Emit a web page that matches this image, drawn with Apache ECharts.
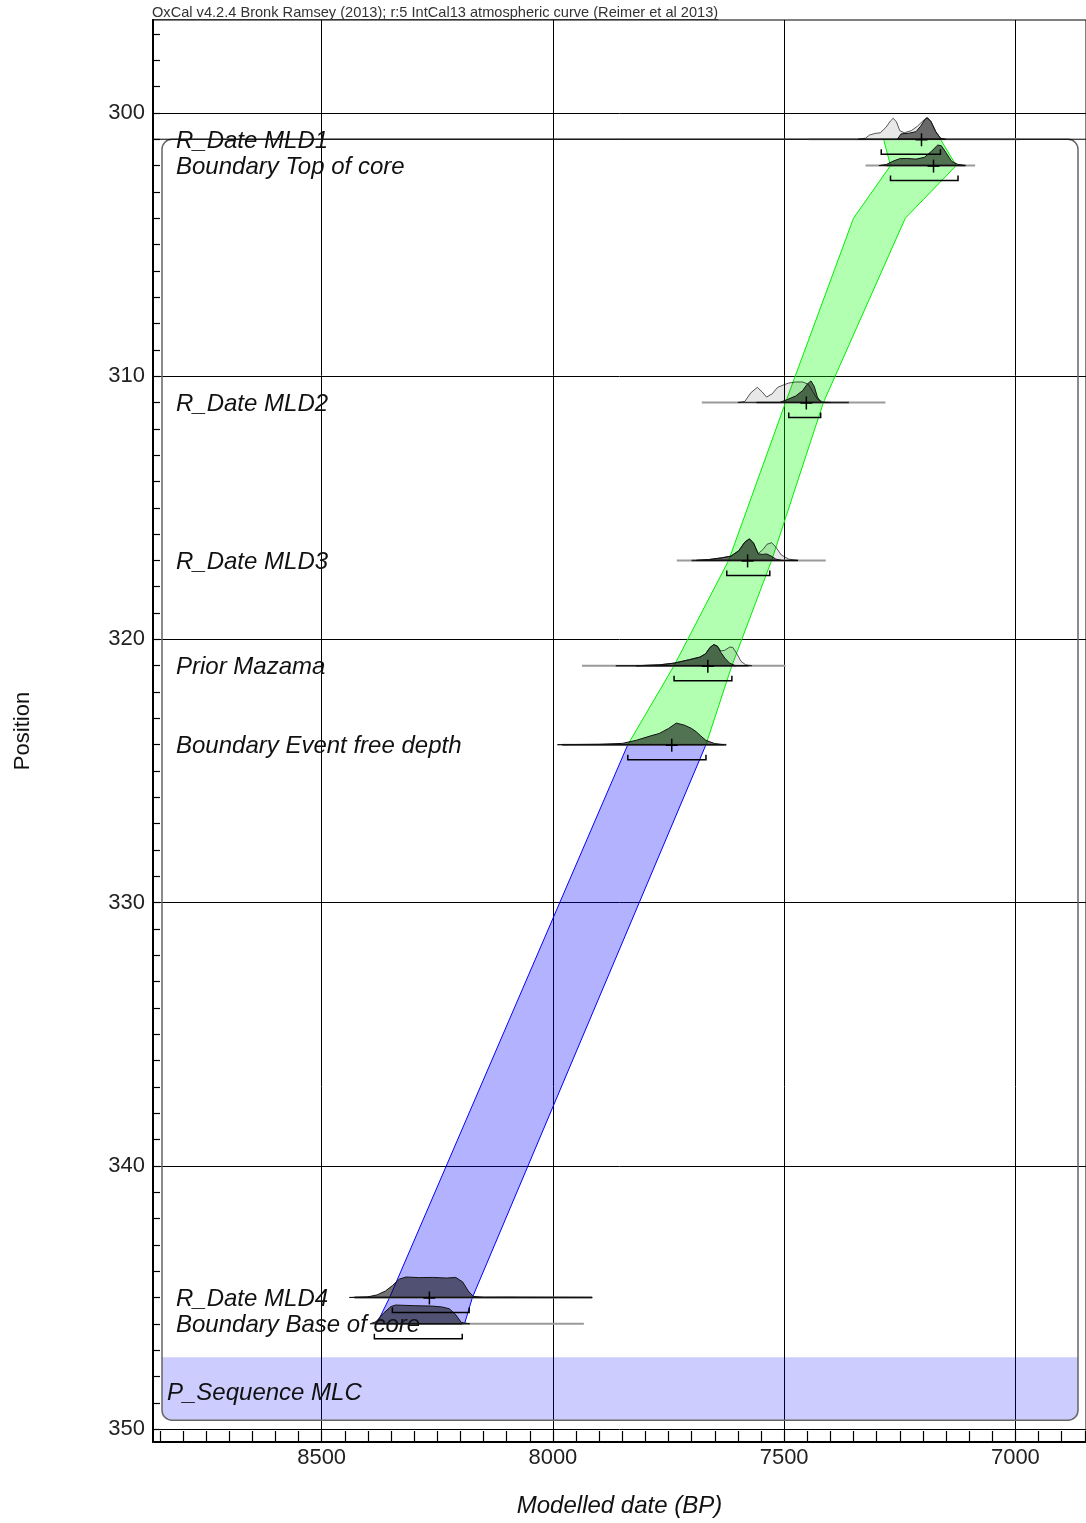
<!DOCTYPE html>
<html><head><meta charset="utf-8">
<script src="https://cdn.jsdelivr.net/npm/echarts@6/dist/echarts.min.js"></script>
<style>html,body{margin:0;padding:0;background:#fff}#c{width:1086px;height:1523px}</style>
</head><body><div id="c"></div><script>
// ---------------- data ----------------
const headerText = 'OxCal v4.2.4 Bronk Ramsey (2013); r:5 IntCal13 atmospheric curve (Reimer et al 2013)';
const xTickLabels = [8500, 8000, 7500, 7000];
const yTickLabels = [300, 310, 320, 330, 340, 350];
const xTitle = 'Modelled date (BP)';
const yTitle = 'Position';

const names = ['R_Date MLD1', 'Boundary Top of core', 'R_Date MLD2', 'R_Date MLD3', 'Prior Mazama', 'Boundary Event free depth', 'R_Date MLD4', 'Boundary Base of core'];
const depths = [301, 302, 311, 317, 321, 324, 345, 346];
const means = [7203, 7177, 7452, 7579, 7665, 7743, 8267, null];
const ranges95 = [[7290, 7162], [7270, 7124], [7490, 7421], [7624, 7531], [7738, 7613], [7838, 7669], [8347, 8181], [8386, 8196]];
const likeSpan = [[7447, 6990], [7324, 7087], [7678, 7281], [7732, 7410], [7937, 7497], [7980, 7625], [8429, 7915], [8381, 7933]];
const postSpan = [null, [7279, 7108], [7560, 7360], [7700, 7470], [7864, 7577], [7980, 7625], [8429, 7915], [8381, 8196]];
const fullLines = [301];

const seqName = 'P_Sequence MLC';
const seqTop = 301, seqBandTop = 347.27, seqBottom = 349.66, seqLabelDepth = 348.55;

// age-depth envelope: [depth, older bound, younger bound]
const greenBand = [[301, 7285, 7162], [302, 7270, 7128], [304, 7350, 7238], [311, 7497, 7415], [317, 7620, 7527], [321, 7738, 7613], [324, 7838, 7669]];
const blueBand = [[324, 7838, 7669], [345, 8353, 8174], [346, 8381, 8191]];

// distributions: [age, relative density]
const likeMLD1 = [[7340,0],[7324,0.05],[7315,0.2],[7303,0.27],[7292,0.3],[7280,0.55],[7270,0.85],[7264,0.97],[7257,0.8],[7250,0.4],[7240,0.3],[7225,0.4],[7212,0.6],[7200,0.85],[7192,1.0],[7183,0.85],[7172,0.35],[7162,0.05],[7150,0]];
const postMLD1 = [[7255,0],[7247,0.25],[7230,0.28],[7215,0.35],[7205,0.6],[7196,0.9],[7190,1.0],[7182,0.8],[7172,0.35],[7162,0.05],[7155,0]];
const postTop = [[7295,0],[7279,0.05],[7265,0.2],[7250,0.32],[7235,0.33],[7215,0.3],[7197,0.38],[7182,0.65],[7168,0.95],[7160,0.92],[7150,0.6],[7138,0.2],[7125,0.06],[7108,0]];
const likeMLD2 = [[7600,0],[7585,0.05],[7572,0.45],[7558,0.7],[7548,0.5],[7538,0.25],[7526,0.4],[7514,0.7],[7503,0.8],[7490,0.9],[7475,0.95],[7460,0.95],[7448,0.85],[7438,0.5],[7428,0.15],[7415,0.02],[7400,0]];
const postMLD2 = [[7510,0],[7495,0.12],[7475,0.3],[7460,0.55],[7450,0.85],[7442,1.0],[7435,0.75],[7428,0.25],[7420,0]];
const likeMLD3 = [[7690,0],[7663,0.04],[7635,0.12],[7615,0.2],[7598,0.45],[7585,0.85],[7575,1.0],[7566,0.8],[7556,0.32],[7546,0.5],[7537,0.75],[7527,0.82],[7518,0.62],[7506,0.25],[7490,0.06],[7470,0]];
const postMLD3 = [[7690,0],[7663,0.04],[7635,0.12],[7615,0.2],[7598,0.45],[7585,0.85],[7575,1.0],[7566,0.8],[7556,0.3],[7546,0.28],[7538,0.3],[7528,0.2],[7518,0.06],[7505,0]];
const likeMaz = [[7820,0],[7770,0.04],[7738,0.12],[7705,0.28],[7682,0.4],[7670,0.55],[7660,0.85],[7652,0.98],[7644,0.9],[7637,0.68],[7628,0.72],[7618,0.86],[7611,0.85],[7602,0.55],[7593,0.2],[7583,0.04],[7570,0]];
const postMaz = [[7820,0],[7770,0.04],[7738,0.12],[7705,0.28],[7682,0.4],[7670,0.55],[7660,0.85],[7652,0.98],[7644,0.9],[7637,0.62],[7628,0.35],[7618,0.12],[7605,0]];
const postEvent = [[7990,0],[7900,0.02],[7850,0.06],[7820,0.2],[7790,0.4],[7770,0.52],[7750,0.75],[7733,1.0],[7715,0.9],[7700,0.75],[7690,0.6],[7680,0.4],[7669,0.2],[7650,0.05],[7630,0]];
const postMLD4 = [[8440,0],[8400,0.03],[8380,0.12],[8362,0.3],[8347,0.55],[8332,0.85],[8317,0.95],[8290,0.92],[8260,0.93],[8230,0.9],[8210,0.93],[8195,0.72],[8183,0.3],[8172,0.05],[8150,0.01],[8090,0.015],[8070,0.01],[7915,0]];
const postBase = [[8395,0],[8382,0.1],[8366,0.5],[8350,0.8],[8340,0.87],[8300,0.84],[8260,0.82],[8240,0.78],[8224,0.7],[8210,0.42],[8198,0.06],[8180,0]];

const likelihoods = [likeMLD1, null, likeMLD2, likeMLD3, likeMaz, null, null, null];
const posteriors = [postMLD1, postTop, postMLD2, postMLD3, postMaz, postEvent, postMLD4, postBase];

// axis extents
const X_OLD = 8864.6, X_YOUNG = 6847.3;
const Y_TOP = 296.47, Y_BOTTOM = 350.49;

// ---------------- chart ----------------
const xMinor = []; for (let v = 6850; v <= 8850; v += 50) xMinor.push(v);
const yMinor = []; for (let v = 297; v <= 350; v += 1) yMinor.push(v);

const H = 0.82;        // depth units of a density of 1
const BRK = 0.57;      // bracket offset below baseline (depth units)
const FONT = '"Liberation Sans", Arial, sans-serif';

const chart = echarts.init(document.getElementById('c'));

function polyPoints(api, pts, depth) {
  return pts.map(p => api.coord([p[0], depth - p[1] * H]));
}
function distSeries(pts, depth, fill, stroke, z) {
  return {
    type: 'custom', z: z, silent: true, xAxisIndex: 0, yAxisIndex: 0,
    data: [[pts[0][0], depth]],
    renderItem: function (params, api) {
      return { type: 'polygon', shape: { points: polyPoints(api, pts, depth) },
        style: { fill: fill, stroke: stroke, lineWidth: 1 } };
    }
  };
}
function bandSeries(band, fill, stroke) {
  return {
    type: 'custom', z: 2, silent: true,
    data: [[band[0][1], band[0][0]]],
    renderItem: function (params, api) {
      const left = band.map(b => api.coord([b[1], b[0]]));
      const right = band.slice().reverse().map(b => api.coord([b[2], b[0]]));
      return { type: 'polygon', shape: { points: left.concat(right) },
        style: { fill: fill, stroke: stroke, lineWidth: 1 } };
    }
  };
}

const series = [];
// P_Sequence box
series.push({
  type: 'custom', z: 1, silent: true, data: [[X_YOUNG, seqTop]],
  renderItem: function (params, api) {
    const cs = params.coordSys;
    const yT = api.coord([X_YOUNG, seqTop])[1];
    const yB = api.coord([X_YOUNG, seqBottom])[1];
    const yBand = api.coord([X_YOUNG, seqBandTop])[1];
    const x0 = cs.x + 9, x1 = cs.x + cs.width - 8;
    return { type: 'group', children: [
      { type: 'rect', shape: { x: x0, y: yBand, width: x1 - x0, height: yB - yBand, r: [0, 0, 10, 10] },
        style: { fill: 'rgba(0,0,255,0.2)' } },
      { type: 'rect', shape: { x: x0, y: yT, width: x1 - x0, height: yB - yT, r: 10 },
        style: { fill: 'none', stroke: '#666', lineWidth: 1.5 } }
    ] };
  }
});
series.push(bandSeries(greenBand, 'rgba(0,255,0,0.3)', '#00ee00'));
series.push(bandSeries(blueBand, 'rgba(0,0,255,0.3)', '#0000ff'));

// baselines
series.push({
  type: 'custom', z: 3, silent: true, data: depths.map((d, i) => [likeSpan[i][0], d]),
  renderItem: function (params, api) {
    const i = params.dataIndex, d = depths[i];
    const ch = [];
    const a = api.coord([likeSpan[i][0], d]), b = api.coord([likeSpan[i][1], d]);
    ch.push({ type: 'line', shape: { x1: a[0], y1: a[1], x2: b[0], y2: b[1] }, style: { stroke: '#9a9a9a', lineWidth: 2 } });
    if (postSpan[i]) {
      const c = api.coord([postSpan[i][0], d]), e = api.coord([postSpan[i][1], d]);
      ch.push({ type: 'line', shape: { x1: c[0], y1: c[1], x2: e[0], y2: e[1] }, style: { stroke: '#222', lineWidth: 1.5 } });
    }
    return { type: 'group', children: ch };
  }
});
series.push({
  type: 'custom', z: 3, silent: true, data: fullLines.map(d => [X_YOUNG, d]),
  renderItem: function (params, api) {
    const a = api.coord([X_OLD, api.value(1)]), b = api.coord([X_YOUNG, api.value(1)]);
    return { type: 'line', shape: { x1: a[0], y1: a[1], x2: b[0], y2: b[1] }, style: { stroke: '#000', lineWidth: 1 } };
  }
});

// distributions
likelihoods.forEach((l, i) => { if (l) series.push(distSeries(l, depths[i], 'rgba(0,0,0,0.09)', 'rgba(0,0,0,0.65)', 4)); });
posteriors.forEach((p, i) => { if (p) series.push(distSeries(p, depths[i], 'rgba(0,0,0,0.55)', '#111', 5)); });

// means (+) and 95% brackets
series.push({
  type: 'custom', z: 6, silent: true, data: depths.map((d, i) => [ranges95[i][0], d]),
  renderItem: function (params, api) {
    const i = params.dataIndex, d = depths[i];
    const ch = [];
    if (means[i] != null) {
      const m = api.coord([means[i], d]);
      ch.push({ type: 'line', shape: { x1: m[0], y1: m[1] - 6, x2: m[0], y2: m[1] + 7 }, style: { stroke: '#000', lineWidth: 1.5 } });
      ch.push({ type: 'line', shape: { x1: m[0] - 6, y1: m[1] + 0.5, x2: m[0] + 6, y2: m[1] + 0.5 }, style: { stroke: '#000', lineWidth: 1.5 } });
    }
    const a = api.coord([ranges95[i][0], d + BRK]), b = api.coord([ranges95[i][1], d + BRK]);
    ch.push({ type: 'polyline', shape: { points: [[a[0], a[1] - 5], [a[0], a[1]], [b[0], b[1]], [b[0], b[1] - 5]] },
      style: { stroke: '#000', lineWidth: 1.5, fill: 'none' } });
    return { type: 'group', children: ch };
  }
});

// labels
series.push({
  type: 'custom', z: 7, silent: true,
  data: depths.map(d => [X_OLD, d]).concat([[X_OLD, seqLabelDepth]]),
  renderItem: function (params, api) {
    const i = params.dataIndex;
    const isSeq = i === names.length;
    const y = api.coord([X_OLD, api.value(1)])[1];
    return { type: 'text', x: params.coordSys.x + (isSeq ? 14 : 23), y: y + 2,
      style: { text: isSeq ? seqName : names[i], font: 'italic 24px ' + FONT, fill: '#111', verticalAlign: 'middle', align: 'left' } };
  }
});

// header width for underline
const mctx = document.createElement('canvas').getContext('2d');
const HEAD_FONT = '14.6px ' + FONT;
mctx.font = HEAD_FONT;
const headW = mctx.measureText(headerText).width;

const xAxisBase = { type: 'value', inverse: true, min: X_YOUNG, max: X_OLD, position: 'bottom', gridIndex: 0 };
const yAxisBase = { type: 'value', inverse: true, min: Y_TOP, max: Y_BOTTOM, position: 'left', gridIndex: 0 };
const plain = v => String(Math.round(v));

chart.setOption({
  animation: false,
  grid: { left: 153, top: 20, right: -2, bottom: 80, show: true, borderColor: '#000', borderWidth: 1, backgroundColor: 'transparent' },
  xAxis: [
    Object.assign({}, xAxisBase, {
      axisLine: { show: true, onZero: false, lineStyle: { color: '#000', width: 2 } },
      axisTick: { show: false, customValues: xTickLabels },
      axisLabel: { customValues: xTickLabels, formatter: plain, fontSize: 22, fontFamily: FONT, color: '#222', margin: 5 },
      splitLine: { show: true, lineStyle: { color: '#000', width: 1 } },
      name: xTitle, nameLocation: 'middle', nameGap: 52,
      nameTextStyle: { fontSize: 24, fontStyle: 'italic', fontFamily: FONT, color: '#111' }
    }),
    Object.assign({}, xAxisBase, {
      axisLine: { show: false },
      axisTick: { show: true, inside: true, length: 11, customValues: xMinor, lineStyle: { color: '#000', width: 1.2 } },
      axisLabel: { show: false }, splitLine: { show: false }
    })
  ],
  yAxis: [
    Object.assign({}, yAxisBase, {
      axisLine: { show: true, onZero: false, lineStyle: { color: '#000', width: 2 } },
      axisTick: { show: false, customValues: yTickLabels },
      axisLabel: { customValues: yTickLabels, formatter: plain, fontSize: 22, fontFamily: FONT, color: '#222', margin: 8 },
      splitLine: { show: true, lineStyle: { color: '#000', width: 1 } },
      name: yTitle, nameLocation: 'middle', nameGap: 119, nameRotate: 90,
      nameTextStyle: { fontSize: 22, fontFamily: FONT, color: '#111' }
    }),
    Object.assign({}, yAxisBase, {
      axisLine: { show: false },
      axisTick: { show: true, inside: true, length: 7, customValues: yMinor, lineStyle: { color: '#000', width: 1.2 } },
      axisLabel: { show: false }, splitLine: { show: false }
    })
  ],
  graphic: [
    { type: 'text', left: 152, top: 5, silent: true, style: { text: headerText, font: HEAD_FONT, fill: '#333' } },
    { type: 'line', silent: true, shape: { x1: 152, y1: 19.5, x2: 152 + headW, y2: 19.5 }, style: { stroke: '#333', lineWidth: 1 } }
  ],
  series: series
});
</script></body></html>
